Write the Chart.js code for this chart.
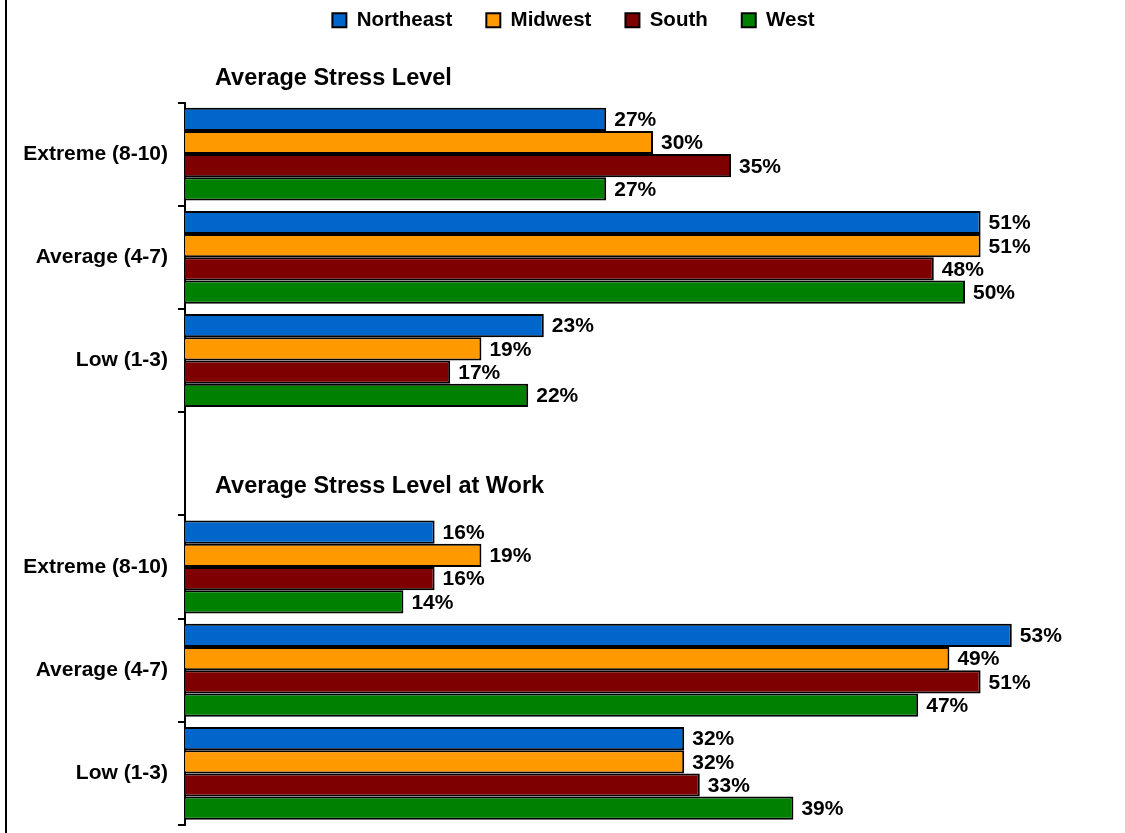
<!DOCTYPE html>
<html>
<head>
<meta charset="utf-8">
<script src="https://cdn.jsdelivr.net/npm/chart.js@4/dist/chart.umd.min.js"></script>
<style>
  body { margin: 0; background: #fff; }
  #wrap { position: relative; width: 1125px; height: 833px; }
  #frame { position: absolute; left: 5px; top: 0; width: 2px; height: 833px; background: #000; }
</style>
</head>
<body>
<div id="wrap">
  <canvas id="stressChart" width="1125" height="833"></canvas>
  <div id="frame"></div>
</div>
<script>
// Stress level by region, two sections split by an empty category row
const categories = ['Extreme (8-10)', 'Average (4-7)', 'Low (1-3)', '', 'Extreme (8-10)', 'Average (4-7)', 'Low (1-3)'];
const regions = ['Northeast', 'Midwest', 'South', 'West'];
const northeast = [27, 51, 23, null, 16, 53, 32];
const midwest = [30, 51, 19, null, 19, 49, 32];
const south = [35, 48, 17, null, 16, 51, 33];
const west = [27, 50, 22, null, 14, 47, 39];
const sectionTitles = ['Average Stress Level', 'Average Stress Level at Work'];
const xMax = 60;

const colors = ['#0066CC', '#FF9900', '#7F0000', '#008000'];
const FONT = '"Liberation Sans", Arial, sans-serif';

// percent labels at the end of each bar
const barValues = {
  id: 'barValues',
  afterDatasetsDraw(chart) {
    const ctx = chart.ctx;
    ctx.save();
    ctx.font = 'bold 21px ' + FONT;
    ctx.fillStyle = '#000';
    ctx.textAlign = 'left';
    ctx.textBaseline = 'middle';
    chart.data.datasets.forEach((ds, i) => {
      chart.getDatasetMeta(i).data.forEach((bar, j) => {
        const v = ds.data[j];
        if (v == null) return;
        ctx.fillText(v + '%', bar.x + 8, bar.y + 1);
      });
    });
    ctx.restore();
  }
};

// section headings above each block of categories
const sectionHeads = {
  id: 'sectionHeads',
  afterDraw(chart) {
    const ctx = chart.ctx;
    const y = chart.scales.y;
    const left = chart.chartArea.left + 30;
    const step = y.getPixelForValue(1) - y.getPixelForValue(0);
    ctx.save();
    ctx.font = 'bold 23.5px ' + FONT;
    ctx.fillStyle = '#000';
    ctx.textBaseline = 'middle';
    ctx.fillText(sectionTitles[0], left, y.getPixelForValue(0) - step / 2 - 24);
    ctx.fillText(sectionTitles[1], left, y.getPixelForValue(3) + 23);
    ctx.restore();
  }
};

const series = [northeast, midwest, south, west];

new Chart(document.getElementById('stressChart'), {
  type: 'bar',
  data: {
    labels: categories,
    datasets: regions.map((name, i) => ({
      label: name,
      data: series[i],
      backgroundColor: colors[i],
      borderColor: '#000',
      borderWidth: 2,
      categoryPercentage: 0.9,
      barPercentage: 1.0
    }))
  },
  options: {
    indexAxis: 'y',
    responsive: false,
    animation: false,
    devicePixelRatio: 1,
    // negative right padding widens the legend box so it centres like the original
    layout: { autoPadding: false, padding: { top: -24, right: -22, bottom: 8, left: 0 } },
    scales: {
      x: {
        position: 'top',
        min: 0,
        max: xMax,
        grid: { display: false },
        border: { display: false },
        ticks: { display: false },
        afterFit(scale) { scale.height = 62; }
      },
      y: {
        grid: {
          offset: true,
          drawOnChartArea: false,
          drawTicks: true,
          tickLength: 7,
          color: '#000',
          lineWidth: 2
        },
        border: { display: true, color: '#000', width: 2 },
        ticks: {
          color: '#000',
          padding: 10,
          font: { family: FONT, size: 21, weight: 'bold' }
        },
        afterFit(scale) {
          scale.width = 185;
          scale.paddingTop = 0;
          scale.paddingBottom = 0;
        }
      },
      // empty spacer on the right edge
      spacer: {
        type: 'linear',
        position: 'right',
        grid: { display: false },
        border: { display: false },
        ticks: { display: false },
        afterFit(scale) {
          scale.width = 26;
          scale.paddingTop = 0;
          scale.paddingBottom = 0;
        }
      }
    },
    plugins: {
      legend: {
        position: 'top',
        labels: {
          boxWidth: 14,
          boxHeight: 14,
          padding: 34,
          color: '#000',
          font: { family: FONT, size: 20.5, weight: 'bold' }
        }
      },
      tooltip: { enabled: false }
    }
  },
  plugins: [barValues, sectionHeads]
});
</script>
</body>
</html>
